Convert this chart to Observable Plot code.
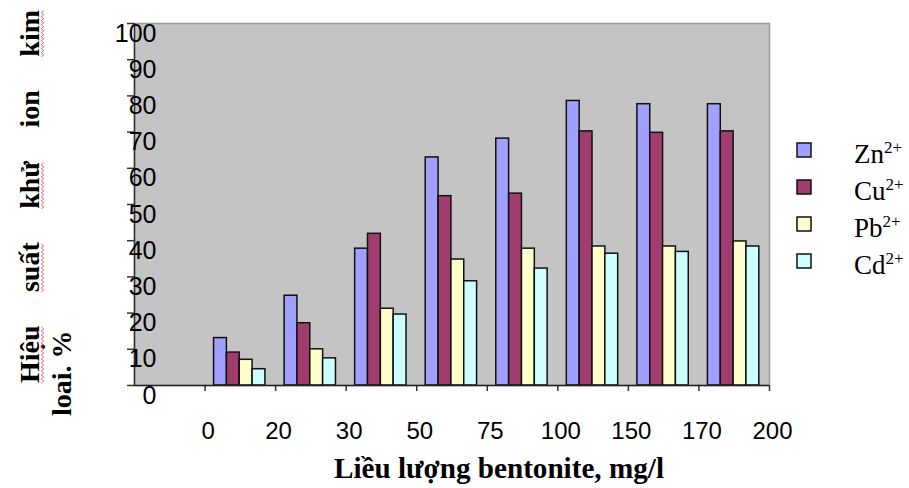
<!DOCTYPE html>
<html><head><meta charset="utf-8">
<script src="https://cdn.jsdelivr.net/npm/d3@7"></script>
<script src="https://cdn.jsdelivr.net/npm/@observablehq/plot@0.6"></script>
<style>body{margin:0;background:#fff} svg{display:block;overflow:visible}</style>
</head><body><div id="chart"></div>
<script>
// ---- data ----
const doses = ["0", "20", "30", "50", "75", "100", "150", "170", "200"];
const ions = ["Zn", "Cu", "Pb", "Cd"];
const zn = [0, 13.1, 24.8, 37.8, 63.0, 68.2, 78.6, 77.7, 77.7];
const cu = [0, 9.1, 17.2, 41.9, 52.3, 53.0, 70.2, 69.8, 70.2];
const pb = [0, 7.1, 10.0, 21.2, 34.8, 37.8, 38.4, 38.4, 39.8];
const cd = [0, 4.5, 7.5, 19.6, 28.8, 32.3, 36.4, 36.9, 38.4];
const yTicks = [0, 10, 20, 30, 40, 50, 60, 70, 80, 90, 100];
const colors = ["#a0a0ff", "#a03c6e", "#ffffcc", "#ccffff"];
const xTitle = "Liều lượng bentonite, mg/l";
const yTitleLine1 = ["Hiệu", "suất", "khử", "ion", "kim"];
const yTitleLine2 = "loai. %";
const squiggled = [true, true, true, false, true];

// ---- layout ----
const W = 909, H = 488, ml = 134, mr = 140, mt = 23, mb = 103;
const frameW = W - ml - mr, frameH = H - mt - mb;
const bw = frameW / doses.length;
const off = 0.1275 * bw, barW = 0.182 * bw;
const series = [zn, cu, pb, cd];
const rows = ions.flatMap((ion, i) => doses.map((d, j) => ({dose: d, ion, value: series[i][j]})));

const barMarks = ions.map((ion, i) =>
  Plot.barY(rows.filter(r => r.ion === ion && r.value > 0), {
    x: "dose", y: "value", fill: colors[i], stroke: "#111", strokeWidth: 1.5,
    insetLeft: off + i * barW, insetRight: bw - off - (i + 1) * barW
  })
);

const svg = Plot.plot({
  width: W, height: H,
  marginLeft: ml, marginRight: mr, marginTop: mt, marginBottom: mb,
  style: {background: "#fff", overflow: "visible"},
  x: {type: "band", domain: doses, padding: 0, round: false, axis: null},
  y: {domain: [0, 100], axis: null},
  marks: [
    Plot.frame({fill: "#c4c4c4", stroke: "#9a9a9a", strokeWidth: 1.5}),
    ...barMarks,
    Plot.ruleY(yTicks, {stroke: "#333", strokeWidth: 1.5, insetLeft: -7, insetRight: frameW}),
    Plot.ruleX(doses, {stroke: "#333", strokeWidth: 1.5, dx: bw / 2, insetTop: frameH, insetBottom: -6}),
    Plot.ruleX([doses[0]], {stroke: "#333", strokeWidth: 1.5, dx: -bw / 2}),
    Plot.ruleY([0], {stroke: "#222", strokeWidth: 1.5}),
    Plot.text(yTicks, {y: d => d, text: d => String(d), frameAnchor: "left", textAnchor: "end",
      lineAnchor: "middle", dx: 22, dy: 10, fontSize: 25,
      fontFamily: "Liberation Sans, Arial, sans-serif", fill: "#000"}),
    Plot.text(doses, {x: d => d, text: d => d, frameAnchor: "bottom", lineAnchor: "middle",
      dx: bw / 2 + 3, dy: 46, fontSize: 24,
      fontFamily: "Liberation Sans, Arial, sans-serif", fill: "#000"})
  ]
});
document.getElementById("chart").appendChild(svg);

const s = d3.select(svg);
const serif = "Liberation Serif, 'Times New Roman', serif";

// x title
s.append("text").attr("x", 499).attr("y", 478).attr("text-anchor", "middle")
  .attr("font-family", serif).attr("font-weight", "bold").attr("font-size", 29)
  .attr("textLength", 330).attr("lengthAdjust", "spacingAndGlyphs")
  .attr("fill", "#000").text(xTitle);

// y title (rotated, justified first line)
const yBottom = 383, yTop = 10, base1 = 39, base2 = 71;
const g = s.append("g").attr("font-family", serif).attr("font-weight", "bold")
  .attr("font-size", 28).attr("fill", "#000").attr("text-anchor", "start");
const words = yTitleLine1.map(w => g.append("text").attr("text-anchor", "start")
  .attr("transform", `translate(${base1},0) rotate(-90)`).text(w));
const lens = words.map(t => t.node().getComputedTextLength());
const gap = ((yBottom - yTop) - d3.sum(lens)) / (words.length - 1);
let pos = yBottom;
words.forEach((t, i) => {
  t.attr("transform", `translate(${base1},${pos}) rotate(-90)`);
  if (squiggled[i]) {
    const pts = [];
    let k = 0;
    for (let yy = pos; yy >= pos - lens[i]; yy -= 2, k++) pts.push([42.5 + (k % 2 ? 1.3 : -1.3), yy]);
    s.append("path").attr("d", d3.line()(pts)).attr("fill", "none").attr("stroke", "#ff4040").attr("stroke-width", 0.8);
  }
  pos -= lens[i] + gap;
});
g.append("text").attr("text-anchor", "start")
  .attr("transform", `translate(${base2},416) rotate(-90)`).text(yTitleLine2);

// legend
const rowsY = [150, 187, 224, 261];
ions.forEach((ion, i) => {
  s.append("rect").attr("x", 797).attr("y", rowsY[i] - 7).attr("width", 14).attr("height", 14)
    .attr("fill", colors[i]).attr("stroke", "#111").attr("stroke-width", 1.5);
  const t = s.append("text").attr("x", 854).attr("y", rowsY[i] + 13).attr("text-anchor", "start")
    .attr("font-family", serif).attr("font-size", 27).attr("fill", "#000");
  t.append("tspan").text(ion);
  t.append("tspan").attr("dy", -10).attr("font-size", 17).text("2+");
});
</script>
</body></html>
